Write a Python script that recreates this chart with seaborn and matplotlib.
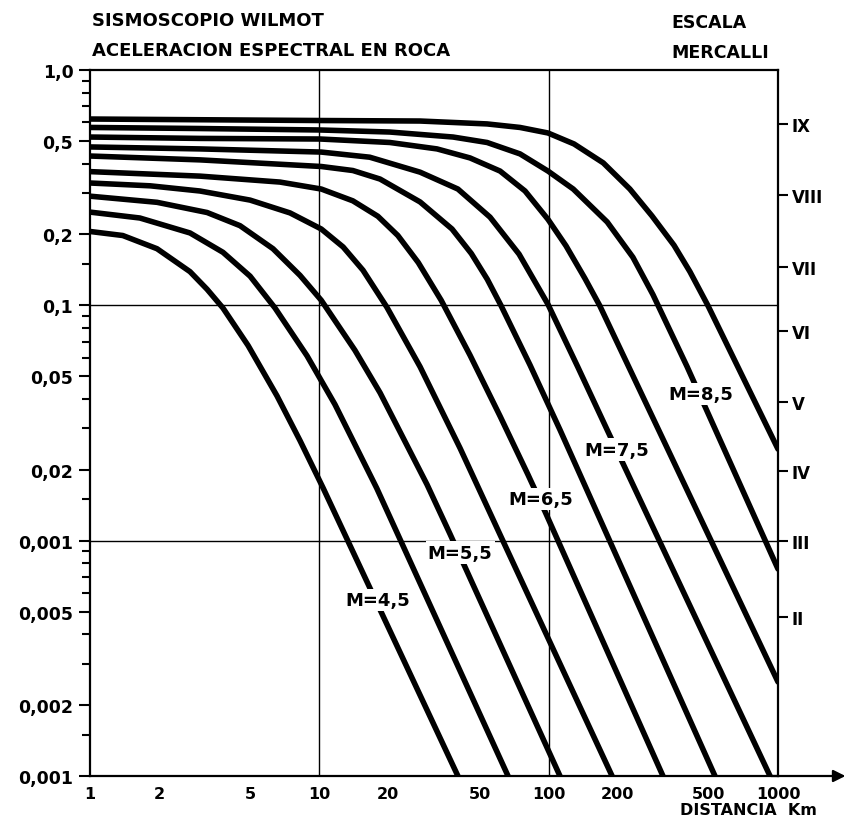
import numpy as np
import pandas as pd
import matplotlib
matplotlib.use("Agg")
import matplotlib.pyplot as plt
from matplotlib.ticker import NullLocator
import seaborn as sns

# ---------------- data ----------------
magnitudes = [4.5, 5.0, 5.5, 6.0, 6.5, 7.0, 7.5, 8.0, 8.5, 9.0]

m45_x = [1, 1.39, 1.96, 2.73, 3.24, 3.80, 4.89, 6.54, 8.24, 10.4, 40.2]
m45_y = [0.206, 0.198, 0.174, 0.139, 0.117, 0.0974, 0.0675, 0.0412, 0.0266, 0.0167, 0.001]

m50_x = [1, 1.65, 2.73, 3.80, 4.99, 6.41, 8.84, 11.7, 17.8, 66.5]
m50_y = [0.249, 0.235, 0.203, 0.168, 0.133, 0.0974, 0.0610, 0.0379, 0.0167, 0.001]

m55_x = [1, 1.96, 3.24, 4.51, 6.28, 8.24, 10.2, 14.3, 18.4, 29.5, 37.1, 112]
m55_y = [0.291, 0.274, 0.248, 0.218, 0.174, 0.134, 0.105, 0.0644, 0.0425, 0.0173, 0.0107, 0.001]

m60_x = [1, 1.83, 3.02, 4.99, 7.45, 10.2, 12.7, 15.5, 19.7, 27.5, 41.1, 61.4, 189]
m60_y = [0.331, 0.322, 0.306, 0.280, 0.247, 0.211, 0.177, 0.141, 0.0982, 0.0548, 0.0247, 0.0106, 0.001]

m65_x = [1, 3.02, 6.74, 10.2, 14.0, 18.0, 22.0, 27.0, 34.0, 45.4, 61.4, 81.2, 96.4, 315]
m65_y = [0.370, 0.354, 0.334, 0.312, 0.278, 0.239, 0.198, 0.152, 0.105, 0.0614, 0.0338, 0.0191, 0.0133, 0.001]

m70_x = [1, 3.02, 10.2, 14.0, 18.4, 27.5, 37.9, 46.0, 54.0, 62.0, 82.9, 112, 531]
m70_y = [0.431, 0.415, 0.389, 0.374, 0.344, 0.275, 0.211, 0.166, 0.129, 0.0997, 0.0558, 0.0296, 0.001]

m75_x = [1, 3.02, 10.2, 16.6, 27.5, 40.2, 55.5, 74.3, 99.3, 134, 181, 923]
m75_y = [0.471, 0.462, 0.448, 0.426, 0.368, 0.312, 0.237, 0.165, 0.101, 0.0547, 0.0292, 0.001]

m80_x = [1, 3.02, 10.1, 20.3, 32.6, 45.4, 61.4, 78.9, 99.3, 119, 144, 167, 1000]
m80_y = [0.519, 0.512, 0.509, 0.492, 0.462, 0.423, 0.372, 0.306, 0.232, 0.179, 0.130, 0.0997, 0.00251]

m85_x = [1, 3.02, 10.1, 20.3, 38.3, 53.9, 75.0, 99.3, 128, 180, 233, 285, 401, 1000]
m85_y = [0.570, 0.564, 0.556, 0.545, 0.519, 0.492, 0.440, 0.372, 0.312, 0.226, 0.160, 0.111, 0.0550, 0.00758]

m90_x = [1, 10.1, 27.5, 53.9, 75.0, 99.3, 129, 173, 226, 282, 352, 413, 495, 1000]
m90_y = [0.619, 0.610, 0.607, 0.590, 0.570, 0.540, 0.485, 0.403, 0.312, 0.240, 0.180, 0.139, 0.0997, 0.0245]

curve_x = [m45_x, m50_x, m55_x, m60_x, m65_x, m70_x, m75_x, m80_x, m85_x, m90_x]
curve_y = [m45_y, m50_y, m55_y, m60_y, m65_y, m70_y, m75_y, m80_y, m85_y, m90_y]

curve_labels = ["M=4,5", "M=5,5", "M=6,5", "M=7,5", "M=8,5"]
curve_label_x = [18.0, 41.1, 92.6, 199, 462]
curve_label_y = [0.0056, 0.00890, 0.0150, 0.0244, 0.0420]

x_major = [1, 2, 5, 10, 20, 50, 100, 200, 500, 1000]
x_major_labels = ["1", "2", "5", "10", "20", "50", "100", "200", "500", "1000"]
y_major = [0.001, 0.002, 0.005, 0.01, 0.02, 0.05, 0.1, 0.2, 0.5, 1.0]
y_major_labels = ["0,001", "0,002", "0,005", "0,001", "0,02", "0,05", "0,1", "0,2", "0,5", "1,0"]
minor_mult = [1.5, 3, 4, 6, 7, 8, 9]
x_decades = [1, 10, 100]
y_decades = [0.001, 0.01, 0.1]

grid_x = [10, 100]
grid_y = [0.01, 0.1]

mercalli_labels = ["IX", "VIII", "VII", "VI", "V", "IV", "III", "II"]
mercalli_y = [0.59, 0.294, 0.146, 0.078, 0.039, 0.0198, 0.01, 0.00475]

# ---------------- build long table ----------------
rows = []
for m, xs, ys in zip(magnitudes, curve_x, curve_y):
    for xv, yv in zip(xs, ys):
        rows.append({"M": m, "distancia": xv, "aceleracion": yv})
df = pd.DataFrame(rows)

# ---------------- figure ----------------
sns.set_style("white")
plt.rcParams["font.family"] = ["DejaVu Sans"]
plt.rcParams["font.weight"] = "bold"
for key in ["text.color", "axes.labelcolor", "xtick.color", "ytick.color", "axes.edgecolor"]:
    plt.rcParams[key] = "black"

W, H = 850, 820
fig = plt.figure(figsize=(W / 100, H / 100), dpi=100)
ax = fig.add_axes([90 / W, 43 / H, 688 / W, 706 / H])

ax.set_xscale("log")
ax.set_yscale("log")

sns.lineplot(data=df, x="distancia", y="aceleracion", units="M", estimator=None,
             sort=False, color="black", linewidth=4.0, solid_capstyle="round",
             solid_joinstyle="round", ax=ax, legend=False, zorder=3)

ax.set_xlim(1, 1000)
ax.set_ylim(0.001, 1.0)
ax.set_xlabel("")
ax.set_ylabel("")

for gx in grid_x:
    ax.axvline(gx, color="black", lw=1.0, zorder=1)
for gy in grid_y:
    ax.axhline(gy, color="black", lw=1.0, zorder=1)

for s in ax.spines.values():
    s.set_visible(True)
    s.set_color("black")
    s.set_linewidth(1.6)

ax.set_xticks(x_major, labels=x_major_labels)
ax.set_xticks([m * d for d in x_decades for m in minor_mult], minor=True)
ax.set_yticks(y_major, labels=y_major_labels)
ax.set_yticks([m * d for d in y_decades for m in minor_mult], minor=True)
ax.xaxis.set_minor_formatter(plt.NullFormatter())
ax.yaxis.set_minor_formatter(plt.NullFormatter())

ax.tick_params(axis="both", which="both", direction="out", width=1.5, color="black",
               labelcolor="black", top=False, right=False)
ax.tick_params(axis="x", which="major", length=7, pad=0.5, labelsize=11.5)
ax.tick_params(axis="x", which="minor", length=6)
ax.tick_params(axis="y", which="major", length=8, pad=4, labelsize=12.5)
ax.tick_params(axis="y", which="minor", length=5.5)
for lab in ax.get_xticklabels() + ax.get_yticklabels():
    lab.set_fontweight("bold")

# Mercalli scale on the right
ax2 = ax.twinx()
ax2.set_yscale("log")
ax2.set_ylim(0.001, 1.0)
ax2.set_yticks(mercalli_y, labels=mercalli_labels)
ax2.yaxis.set_minor_locator(NullLocator())
ax2.tick_params(axis="y", which="major", direction="out", length=7, width=1.5,
                pad=3, labelsize=12, color="black", labelcolor="black")
for lab in ax2.get_yticklabels():
    lab.set_fontweight("bold")
for s in ax2.spines.values():
    s.set_visible(False)

# arrow on the distance axis
ax.annotate("", xy=(1.098, 0), xytext=(0.99, 0), xycoords="axes fraction",
            textcoords="axes fraction", annotation_clip=False,
            arrowprops=dict(arrowstyle="-|>", color="black", lw=1.6,
                            mutation_scale=18, shrinkA=0, shrinkB=0))

# curve labels
for t, lx, ly in zip(curve_labels, curve_label_x, curve_label_y):
    ax.text(lx, ly, t, ha="center", va="center", fontsize=13, fontweight="bold",
            color="black",
            bbox=dict(boxstyle="square,pad=0.12", fc="white", ec="none"), zorder=5)

# titles
fig.text(92 / W, 1 - 21.5 / H, "SISMOSCOPIO WILMOT", ha="left", va="center",
         fontsize=13, fontweight="bold")
fig.text(92 / W, 1 - 51 / H, "ACELERACION ESPECTRAL EN ROCA", ha="left", va="center",
         fontsize=13, fontweight="bold")
fig.text(671 / W, 1 - 22.5 / H, "ESCALA", ha="left", va="center",
         fontsize=12.5, fontweight="bold")
fig.text(671 / W, 1 - 53 / H, "MERCALLI", ha="left", va="center",
         fontsize=12.5, fontweight="bold")
fig.text(680 / W, 1.5 / H, "DISTANCIA  Km", ha="left", va="bottom",
         fontsize=11.5, fontweight="bold")

fig.savefig("out.png", dpi=100, facecolor="white")
